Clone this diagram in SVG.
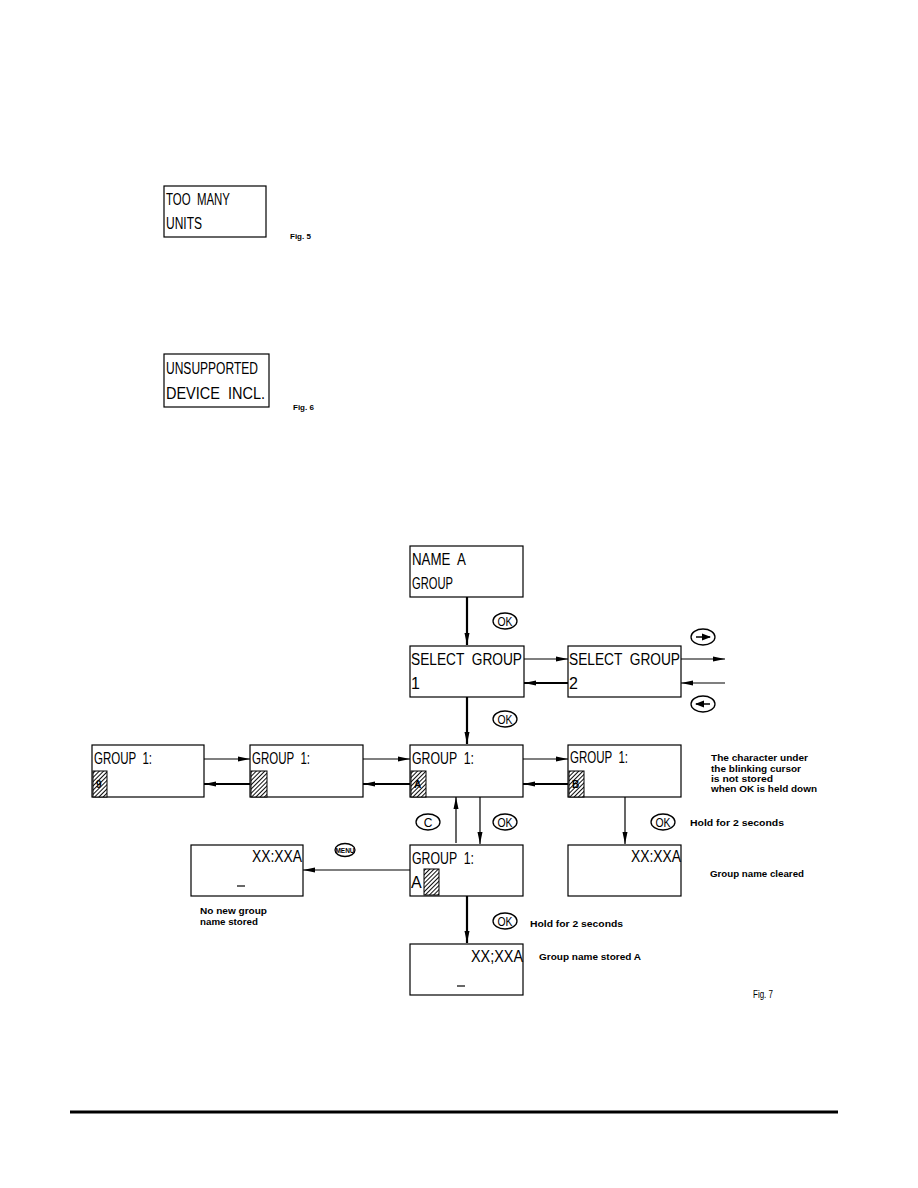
<svg xmlns="http://www.w3.org/2000/svg" width="918" height="1188" viewBox="0 0 918 1188">
<style>
.box{fill:#fff;stroke:#000;stroke-width:1.2}
.lcd{font-family:"Liberation Sans",Arial,sans-serif;font-size:16px;fill:#000;white-space:pre}
.sm{font-family:"Liberation Sans",Arial,sans-serif;font-size:9.5px;font-weight:bold;fill:#000}
.fig{font-family:"Liberation Sans",Arial,sans-serif;font-size:8px;font-weight:bold;fill:#000}
.ln{stroke:#000;stroke-width:1.2;fill:none}
.th{stroke:#000;stroke-width:2.2;fill:none}
.btn{fill:#fff;stroke:#000;stroke-width:1.3}
.bt{font-family:"Liberation Sans",Arial,sans-serif;font-size:12px;fill:#000;text-anchor:middle}
.hat{fill:url(#hatch);stroke:#000;stroke-width:1}
</style>
<defs>
<pattern id="hatch" patternUnits="userSpaceOnUse" width="3" height="3" patternTransform="rotate(45)">
<rect width="3" height="3" fill="#fff"/>
<line x1="0" y1="0" x2="0" y2="3" stroke="#000" stroke-width="1.9"/>
</pattern>
<marker id="ah" markerWidth="12" markerHeight="6" refX="12" refY="3" orient="auto" markerUnits="userSpaceOnUse">
<path d="M0,0.5 L12,3 L0,5.5 Z" fill="#000"/>
</marker>
</defs>

<g id="fig5">
<rect class="box" x="164" y="186" width="102" height="51"/>
<text class="lcd" x="166" y="205" textLength="64" lengthAdjust="spacingAndGlyphs">TOO  MANY</text>
<text class="lcd" x="166" y="229" textLength="36" lengthAdjust="spacingAndGlyphs">UNITS</text>
<text class="fig" x="290" y="239">Fig. 5</text>
</g>

<g id="fig6">
<rect class="box" x="164" y="354" width="105" height="53"/>
<text class="lcd" x="166" y="374" textLength="92" lengthAdjust="spacingAndGlyphs">UNSUPPORTED</text>
<text class="lcd" x="166" y="399" textLength="99" lengthAdjust="spacingAndGlyphs">DEVICE  INCL.</text>
<text class="fig" x="293" y="410">Fig. 6</text>
</g>

<g id="connectors">
<line class="th" x1="467" y1="597" x2="467" y2="645" marker-end="url(#ah)"/>
<line class="ln" x1="524" y1="659" x2="568" y2="659" marker-end="url(#ah)"/>
<line class="th" x1="568" y1="683" x2="524" y2="683" marker-end="url(#ah)"/>
<line class="ln" x1="681" y1="659" x2="725" y2="659" marker-end="url(#ah)"/>
<line class="ln" x1="725" y1="683" x2="681" y2="683" marker-end="url(#ah)"/>
<line class="th" x1="467" y1="697" x2="467" y2="744" marker-end="url(#ah)"/>
<line class="ln" x1="204" y1="759" x2="250" y2="759" marker-end="url(#ah)"/>
<line class="th" x1="250" y1="784" x2="204" y2="784" marker-end="url(#ah)"/>
<line class="ln" x1="363" y1="759" x2="410" y2="759" marker-end="url(#ah)"/>
<line class="th" x1="410" y1="784" x2="363" y2="784" marker-end="url(#ah)"/>
<line class="ln" x1="523" y1="759" x2="568" y2="759" marker-end="url(#ah)"/>
<line class="th" x1="568" y1="784" x2="523" y2="784" marker-end="url(#ah)"/>
<line class="ln" x1="456" y1="843" x2="456" y2="797" marker-end="url(#ah)"/>
<line class="ln" x1="480" y1="797" x2="480" y2="844" marker-end="url(#ah)"/>
<line class="ln" x1="625" y1="797" x2="625" y2="844" marker-end="url(#ah)"/>
<line class="ln" x1="410" y1="870" x2="303" y2="870" marker-end="url(#ah)"/>
<line class="th" x1="467" y1="896" x2="467" y2="943" marker-end="url(#ah)"/>
</g>

<g id="buttons">
<ellipse class="btn" cx="505" cy="621" rx="12" ry="8"/><text class="bt" x="505" y="625.5" textLength="15" lengthAdjust="spacingAndGlyphs">OK</text>
<ellipse class="btn" cx="505" cy="719" rx="12" ry="8"/><text class="bt" x="505" y="723.5" textLength="15" lengthAdjust="spacingAndGlyphs">OK</text>
<ellipse class="btn" cx="703" cy="637" rx="12" ry="8"/><path d="M696,637 L710,637" stroke="#000" stroke-width="1.5"/><path d="M702,633.5 L711,637 L702,640.5 Z" fill="#000"/>
<ellipse class="btn" cx="703" cy="704" rx="12" ry="8"/><path d="M696,704 L710,704" stroke="#000" stroke-width="1.5"/><path d="M704,700.5 L695,704 L704,707.5 Z" fill="#000"/>
<ellipse class="btn" cx="428" cy="822" rx="12" ry="8"/><text class="bt" x="428" y="826.5">C</text>
<ellipse class="btn" cx="505" cy="822" rx="12" ry="8"/><text class="bt" x="505" y="826.5" textLength="15" lengthAdjust="spacingAndGlyphs">OK</text>
<ellipse class="btn" cx="663" cy="822" rx="12" ry="8"/><text class="bt" x="663" y="826.5" textLength="15" lengthAdjust="spacingAndGlyphs">OK</text>
<ellipse class="btn" cx="345" cy="850" rx="10" ry="6.5"/><text class="bt" x="345" y="852.5" style="font-size:6.5px;font-weight:bold">MENU</text>
<ellipse class="btn" cx="505" cy="921" rx="12" ry="8"/><text class="bt" x="505" y="925.5" textLength="15" lengthAdjust="spacingAndGlyphs">OK</text>
</g>

<g id="nameGroup">
<rect class="box" x="410" y="546" width="113" height="51"/>
<text class="lcd" x="412" y="565" textLength="54" lengthAdjust="spacingAndGlyphs">NAME  A</text>
<text class="lcd" x="412" y="589" textLength="41" lengthAdjust="spacingAndGlyphs">GROUP</text>
</g>

<g id="selectGroup1">
<rect class="box" x="410" y="646" width="114" height="51"/>
<text class="lcd" x="411" y="665" textLength="111" lengthAdjust="spacingAndGlyphs">SELECT  GROUP</text>
<text class="lcd" x="411" y="689">1</text>
</g>

<g id="selectGroup2">
<rect class="box" x="568" y="646" width="113" height="51"/>
<text class="lcd" x="569" y="665" textLength="111" lengthAdjust="spacingAndGlyphs">SELECT  GROUP</text>
<text class="lcd" x="569" y="689">2</text>
</g>

<g id="groupA">
<rect class="box" x="92" y="745" width="112" height="52"/>
<text class="lcd" x="94" y="764" textLength="58" lengthAdjust="spacingAndGlyphs">GROUP  1:</text>
<rect class="hat" x="93" y="771" width="14" height="26"/>
<text class="sm" x="96" y="788" style="font-size:10px">9</text>
</g>

<g id="groupB">
<rect class="box" x="250" y="745" width="113" height="52"/>
<text class="lcd" x="252" y="764" textLength="58" lengthAdjust="spacingAndGlyphs">GROUP  1:</text>
<rect class="hat" x="251" y="771" width="16" height="26"/>
</g>

<g id="groupC">
<rect class="box" x="410" y="745" width="113" height="52"/>
<text class="lcd" x="412" y="764" textLength="62" lengthAdjust="spacingAndGlyphs">GROUP  1:</text>
<rect class="hat" x="411" y="771" width="15" height="26"/>
<text class="sm" x="414" y="788" style="font-size:10px">A</text>
</g>

<g id="groupD">
<rect class="box" x="568" y="745" width="113" height="52"/>
<text class="lcd" x="570" y="763" textLength="58" lengthAdjust="spacingAndGlyphs">GROUP  1:</text>
<rect class="hat" x="569" y="771" width="15" height="26"/>
<text class="sm" x="572" y="788" style="font-size:10px">B</text>
<text class="sm" x="711" y="761" textLength="97" lengthAdjust="spacingAndGlyphs">The character under</text>
<text class="sm" x="711" y="771.5" textLength="90" lengthAdjust="spacingAndGlyphs">the blinking cursor</text>
<text class="sm" x="711" y="782" textLength="62" lengthAdjust="spacingAndGlyphs">is not stored</text>
<text class="sm" x="711" y="792" textLength="106" lengthAdjust="spacingAndGlyphs">when OK is held down</text>
<text class="sm" x="690" y="826" textLength="94" lengthAdjust="spacingAndGlyphs">Hold for 2 seconds</text>
</g>

<g id="groupEdit">
<rect class="box" x="410" y="845" width="113" height="51"/>
<text class="lcd" x="412" y="864" textLength="62" lengthAdjust="spacingAndGlyphs">GROUP  1:</text>
<text class="lcd" x="411" y="888">A</text>
<rect class="hat" x="424" y="869" width="15" height="26"/>
</g>

<g id="noNewName">
<rect class="box" x="191" y="845" width="112" height="51"/>
<text class="lcd" x="302" y="862" text-anchor="end" textLength="50" lengthAdjust="spacingAndGlyphs">XX:XXA</text>
<line x1="237" y1="886" x2="245" y2="886" stroke="#000" stroke-width="1.2"/>
<text class="sm" x="200" y="914" textLength="67" lengthAdjust="spacingAndGlyphs">No new group</text>
<text class="sm" x="200" y="925" textLength="58" lengthAdjust="spacingAndGlyphs">name stored</text>
</g>

<g id="nameCleared">
<rect class="box" x="568" y="845" width="113" height="51"/>
<text class="lcd" x="681" y="862" text-anchor="end" textLength="50" lengthAdjust="spacingAndGlyphs">XX:XXA</text>
<text class="sm" x="710" y="877" textLength="94" lengthAdjust="spacingAndGlyphs">Group name cleared</text>
</g>

<g id="nameStored">
<rect class="box" x="410" y="944" width="113" height="51"/>
<text class="lcd" x="523" y="962" text-anchor="end" textLength="52" lengthAdjust="spacingAndGlyphs">XX;XXA</text>
<line x1="457" y1="986" x2="465" y2="986" stroke="#000" stroke-width="1.2"/>
<text class="sm" x="530" y="927" textLength="93" lengthAdjust="spacingAndGlyphs">Hold for 2 seconds</text>
<text class="sm" x="539" y="960" textLength="102" lengthAdjust="spacingAndGlyphs">Group name stored A</text>
<text x="753" y="998" textLength="20" lengthAdjust="spacingAndGlyphs" style="font-family:'Liberation Sans',Arial,sans-serif;font-size:10px;fill:#000">Fig. 7</text>
</g>

<line x1="70" y1="1112" x2="838" y2="1112" stroke="#000" stroke-width="3"/>
</svg>
